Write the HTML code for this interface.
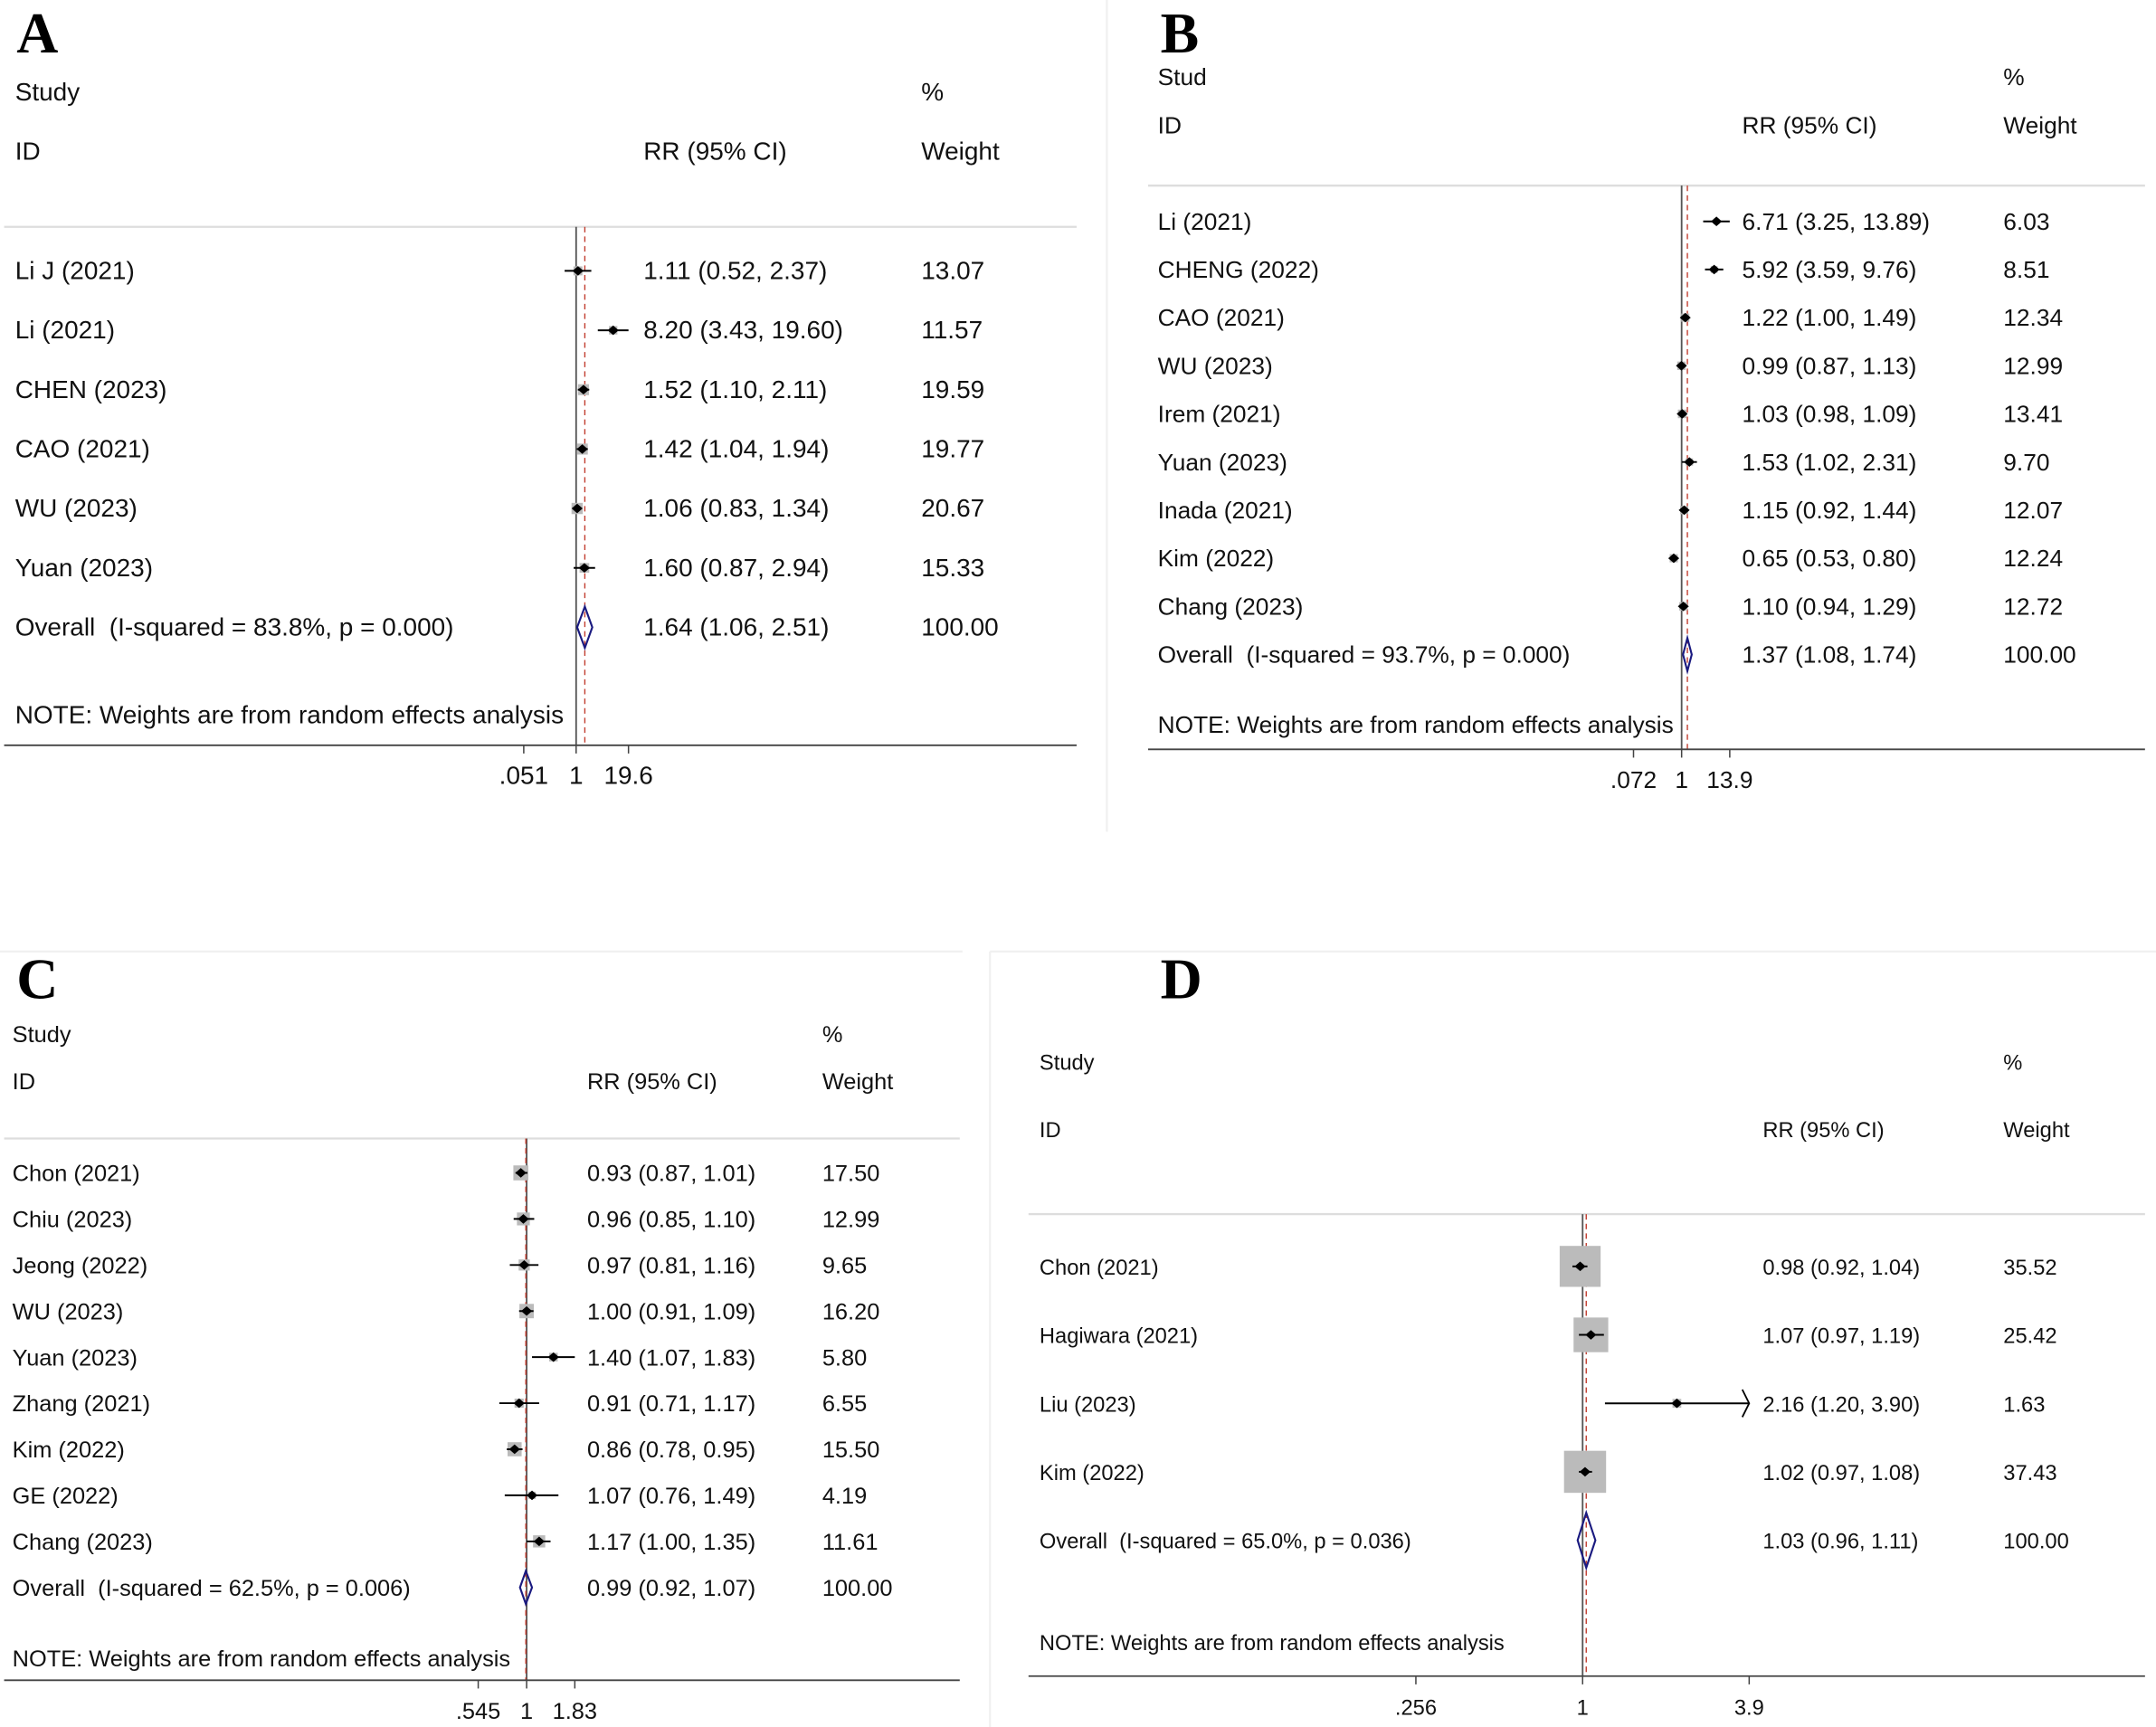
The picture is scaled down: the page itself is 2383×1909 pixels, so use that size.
<!DOCTYPE html>
<html><head><meta charset="utf-8">
<style>html,body{margin:0;padding:0;background:#fff;}svg{display:block;}text{white-space:pre;}</style></head>
<body>
<svg id="fig" width="2383" height="1909" viewBox="0 0 1568 1256" preserveAspectRatio="none" xmlns="http://www.w3.org/2000/svg" xml:space="preserve" font-family="'Liberation Sans', Arial, sans-serif"></svg>
<script>
// Panel A data
const aStudies = ["Li J (2021)","Li (2021)","CHEN (2023)","CAO (2021)","WU (2023)","Yuan (2023)"];
const aRR = [1.11, 8.20, 1.52, 1.42, 1.06, 1.60];
const aLo = [0.52, 3.43, 1.10, 1.04, 0.83, 0.87];
const aHi = [2.37, 19.60, 2.11, 1.94, 1.34, 2.94];
const aW = [13.07, 11.57, 19.59, 19.77, 20.67, 15.33];
const aOverall = [1.64, 1.06, 2.51];
const aHet = "Overall  (I-squared = 83.8%, p = 0.000)";
const aTicks = [0.051, 1, 19.6];
const aTickLabels = [".051", "1", "19.6"];
// Panel B data
const bStudies = ["Li (2021)","CHENG (2022)","CAO (2021)","WU (2023)","Irem (2021)","Yuan (2023)","Inada (2021)","Kim (2022)","Chang (2023)"];
const bRR = [6.71, 5.92, 1.22, 0.99, 1.03, 1.53, 1.15, 0.65, 1.10];
const bLo = [3.25, 3.59, 1.00, 0.87, 0.98, 1.02, 0.92, 0.53, 0.94];
const bHi = [13.89, 9.76, 1.49, 1.13, 1.09, 2.31, 1.44, 0.80, 1.29];
const bW = [6.03, 8.51, 12.34, 12.99, 13.41, 9.70, 12.07, 12.24, 12.72];
const bOverall = [1.37, 1.08, 1.74];
const bHet = "Overall  (I-squared = 93.7%, p = 0.000)";
const bTicks = [0.072, 1, 13.9];
const bTickLabels = [".072", "1", "13.9"];
// Panel C data
const cStudies = ["Chon (2021)","Chiu (2023)","Jeong (2022)","WU (2023)","Yuan (2023)","Zhang (2021)","Kim (2022)","GE (2022)","Chang (2023)"];
const cRR = [0.93, 0.96, 0.97, 1.00, 1.40, 0.91, 0.86, 1.07, 1.17];
const cLo = [0.87, 0.85, 0.81, 0.91, 1.07, 0.71, 0.78, 0.76, 1.00];
const cHi = [1.01, 1.10, 1.16, 1.09, 1.83, 1.17, 0.95, 1.49, 1.35];
const cW = [17.50, 12.99, 9.65, 16.20, 5.80, 6.55, 15.50, 4.19, 11.61];
const cOverall = [0.99, 0.92, 1.07];
const cHet = "Overall  (I-squared = 62.5%, p = 0.006)";
const cTicks = [0.545, 1, 1.83];
const cTickLabels = [".545", "1", "1.83"];
// Panel D data
const dStudies = ["Chon (2021)","Hagiwara (2021)","Liu (2023)","Kim (2022)"];
const dRR = [0.98, 1.07, 2.16, 1.02];
const dLo = [0.92, 0.97, 1.20, 0.97];
const dHi = [1.04, 1.19, 3.90, 1.08];
const dW = [35.52, 25.42, 1.63, 37.43];
const dOverall = [1.03, 0.96, 1.11];
const dHet = "Overall  (I-squared = 65.0%, p = 0.036)";
const dTicks = [0.256, 1, 3.9];
const dTickLabels = [".256", "1", "3.9"];

const svg = document.getElementById('fig');
const NS = "http://www.w3.org/2000/svg";
function mk(tag, attrs, parent) {
  const e = document.createElementNS(NS, tag);
  for (const k in attrs) e.setAttribute(k, attrs[k]);
  (parent || svg).appendChild(e);
  return e;
}
function txt(parent, x, y, s, size, extra) {
  const t = mk('text', Object.assign({x: x, y: y, 'font-size': size, fill: '#111'}, extra || {}), parent);
  t.textContent = s;
  return t;
}
const fmt = v => v.toFixed(2);

function panel(cfg) {
  const g = mk('g', {});
  
  
  const fs = cfg.fs;
  const xs = v => cfg.nullX + cfg.ppl * Math.log(v);
  const maxV = cfg.ticks[cfg.ticks.length - 1];
  const L = txt(g, cfg.letterX, cfg.letterY, cfg.key.toUpperCase(), 42, {'font-family': "'Liberation Serif', serif", 'font-weight': 'bold', fill: '#000'});
  
  
  let t;
  t = txt(g, cfg.labelX, cfg.studyY + 6, cfg.studyText, fs);
   
  t = txt(g, cfg.wX, cfg.studyY + 6, '%', fs);
   
  t = txt(g, cfg.labelX, cfg.idY + 6, 'ID', fs);
   
  t = txt(g, cfg.ciX, cfg.idY + 6, 'RR (95% CI)', fs);
   
  t = txt(g, cfg.wX, cfg.idY + 6, 'Weight', fs);
   
  let ln = mk('line', {x1: cfg.x0, x2: cfg.x1, y1: cfg.hdrY, y2: cfg.hdrY, stroke: '#ddd', 'stroke-width': 1.5}, g);
   
  ln = mk('line', {x1: xs(1), x2: xs(1), y1: cfg.hdrY, y2: cfg.axisY, stroke: '#555', 'stroke-width': 1.2}, g);
   
  ln = mk('line', {x1: xs(cfg.overall[0]), x2: xs(cfg.overall[0]), y1: cfg.hdrY, y2: cfg.axisY, stroke: '#c0392b', 'stroke-width': 0.9, 'stroke-dasharray': '4,3'}, g);
   
  cfg.studies.forEach((s, i) => {
    const y = cfg.rowY0 + i * cfg.rowStep;
    const rg = mk('g', {}, g);
    
    
    t = txt(rg, cfg.labelX, y + 6, s, fs);
     
    const side = cfg.sq * Math.sqrt(cfg.w[i]);
    const sq = mk('rect', {x: xs(cfg.rr[i]) - side / 2, y: y - side / 2, width: side, height: side, fill: '#bbb'}, rg);
     
    const hiX = xs(Math.min(cfg.hi[i], maxV));
    const ci = mk('line', {x1: xs(cfg.lo[i]), x2: hiX, y1: y, y2: y, stroke: '#000', 'stroke-width': 1.3}, rg);
     
    if (cfg.hi[i] >= maxV * 0.995 && cfg.arrow) {
      const ar = mk('path', {d: `M${hiX-5},${y-10} L${hiX},${y} L${hiX-5},${y+10}`, fill: 'none', stroke: '#000', 'stroke-width': 1.2}, rg);
       
    }
    const px = xs(cfg.rr[i]);
    const pt = mk('path', {d: `M${px-4},${y} L${px},${y-3.5} L${px+4},${y} L${px},${y+3.5}Z`, fill: '#000'}, rg);
     
    t = txt(rg, cfg.ciX, y + 6, `${fmt(cfg.rr[i])} (${fmt(cfg.lo[i])}, ${fmt(cfg.hi[i])})`, fs);
     
    t = txt(rg, cfg.wX, y + 6, fmt(cfg.w[i]), fs);
     
  });
  const oy = cfg.rowY0 + cfg.studies.length * cfg.rowStep;
  const og = mk('g', {}, g);
  
  
  t = txt(og, cfg.labelX, oy + 6, cfg.het, fs);
   
  const h = cfg.dh / 2;
  const dm = mk('path', {d: `M${xs(cfg.overall[1])},${oy} L${xs(cfg.overall[0])},${oy-h} L${xs(cfg.overall[2])},${oy} L${xs(cfg.overall[0])},${oy+h}Z`, fill: 'none', stroke: '#1a1a80', 'stroke-width': 1.4}, og);
   
  t = txt(og, cfg.ciX, oy + 6, `${fmt(cfg.overall[0])} (${fmt(cfg.overall[1])}, ${fmt(cfg.overall[2])})`, fs);
   
  t = txt(og, cfg.wX, oy + 6, '100.00', fs);
   
  t = txt(g, cfg.labelX, cfg.noteY + 6, 'NOTE: Weights are from random effects analysis', fs);
   
  ln = mk('line', {x1: cfg.x0, x2: cfg.x1, y1: cfg.axisY, y2: cfg.axisY, stroke: '#444', 'stroke-width': 1.2}, g);
   
  cfg.ticks.forEach((v, i) => {
    const tk = mk('line', {x1: xs(v), x2: xs(v), y1: cfg.axisY, y2: cfg.axisY + 6, stroke: '#444', 'stroke-width': 1}, g);
     
    const tl = txt(g, xs(v), cfg.axisY + 28, cfg.tickLabels[i], fs, {'text-anchor': 'middle'});
     
  });
}

[[805,0,805,605],[0,692,700,692],[720,692,1568,692],[720,692,720,1256]].forEach(p => {
  const s = mk('line', {x1: p[0], y1: p[1], x2: p[2], y2: p[3], stroke: '#f0f0f0', 'stroke-width': 1.5});
  
  
});

panel({key: 'a', studies: aStudies, rr: aRR, lo: aLo, hi: aHi, w: aW, overall: aOverall, het: aHet, ticks: aTicks, tickLabels: aTickLabels,
  fs: 18.4, letterX: 12, letterY: 38, studyText: 'Study', labelX: 11, ciX: 468, wX: 670, studyY: 67, idY: 110, hdrY: 165,
  rowY0: 197, rowStep: 43.2, noteY: 520, axisY: 542, x0: 3, x1: 783, nullX: 419, ppl: 12.8, sq: 1.8, dh: 30, arrow: false});
panel({key: 'b', studies: bStudies, rr: bRR, lo: bLo, hi: bHi, w: bW, overall: bOverall, het: bHet, ticks: bTicks, tickLabels: bTickLabels,
  fs: 17.3, letterX: 844, letterY: 38, studyText: 'Stud', labelX: 842, ciX: 1267, wX: 1457, studyY: 56, idY: 91, hdrY: 135,
  rowY0: 161, rowStep: 35, noteY: 527, axisY: 545, x0: 835, x1: 1560, nullX: 1223, ppl: 13.3, sq: 1.7, dh: 24, arrow: false});
panel({key: 'c', studies: cStudies, rr: cRR, lo: cLo, hi: cHi, w: cW, overall: cOverall, het: cHet, ticks: cTicks, tickLabels: cTickLabels,
  fs: 16.7, letterX: 12, letterY: 726, studyText: 'Study', labelX: 9, ciX: 427, wX: 598, studyY: 752, idY: 786, hdrY: 828,
  rowY0: 853, rowStep: 33.5, noteY: 1206, axisY: 1222, x0: 3, x1: 698, nullX: 383, ppl: 58, sq: 2.6, dh: 24, arrow: false});
panel({key: 'd', studies: dStudies, rr: dRR, lo: dLo, hi: dHi, w: dW, overall: dOverall, het: dHet, ticks: dTicks, tickLabels: dTickLabels,
  fs: 15.6, letterX: 844, letterY: 726, studyText: 'Study', labelX: 756, ciX: 1282, wX: 1457, studyY: 772, idY: 821, hdrY: 883,
  rowY0: 921, rowStep: 49.8, noteY: 1194, axisY: 1219, x0: 748, x1: 1560, nullX: 1151, ppl: 89, sq: 5, dh: 40, arrow: true});
</script>
</body></html>
